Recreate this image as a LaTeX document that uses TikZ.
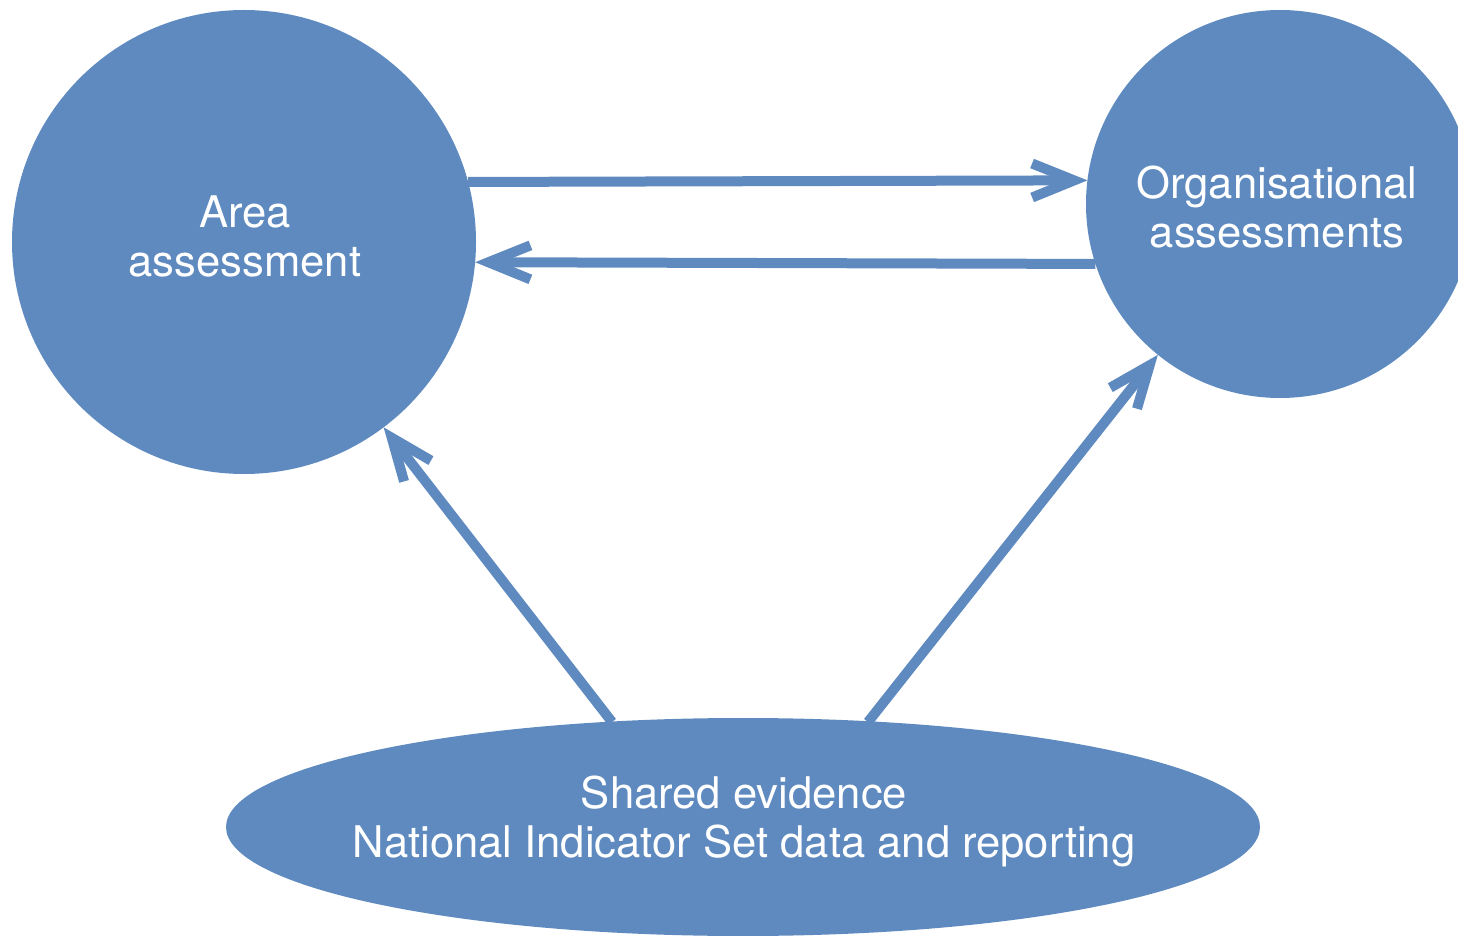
\documentclass[tikz,border=0pt]{standalone}
\usepackage{fontspec}
\setmainfont{TeX Gyre Heros}
\usetikzlibrary{arrows.meta,shapes.geometric}
\definecolor{nodeblue}{RGB}{95,138,192}
\begin{document}
\begin{tikzpicture}[x=0.5pt,y=-0.5pt,
  blob/.style={fill=nodeblue,draw=none,inner sep=0pt,outer sep=0pt},
  lbl/.style={text=white,align=center,font=\fontsize{21.8}{24.5}\selectfont,inner sep=0pt},
  arr/.style={draw=nodeblue,line width=5pt,-{Straight Barb[length=21pt,width=17pt]}}]
\useasboundingbox (0,0) rectangle (1458,936);
\clip (0,0) rectangle (1458,936);
\node[blob,circle,minimum size=232pt] (area) at (244,242) {};
\node[blob,circle,minimum size=194pt] (org) at (1280,204) {};
\node[blob,ellipse,minimum width=517pt,minimum height=109pt] (ev) at (743,827) {};
\node[lbl] (areatext) at (245,236) {Area\\assessment};
\node[lbl] (orgtext) at (1277,207) {Organisational\\assessments};
\node[lbl] (evtext) at (744,821) {Shared evidence\\National Indicator Set data and reporting};
\coordinate (e1) at (612,722);
\coordinate (e2) at (868,722);
\draw[arr] (area.15.2) -- (org.173.2);
\draw[arr] (org.-162.3) -- (area.-5.2);
\draw[arr] (e1) -- (area.-53.8);
\draw[arr] (e2) -- (org.-129.4);
\end{tikzpicture}
\end{document}
